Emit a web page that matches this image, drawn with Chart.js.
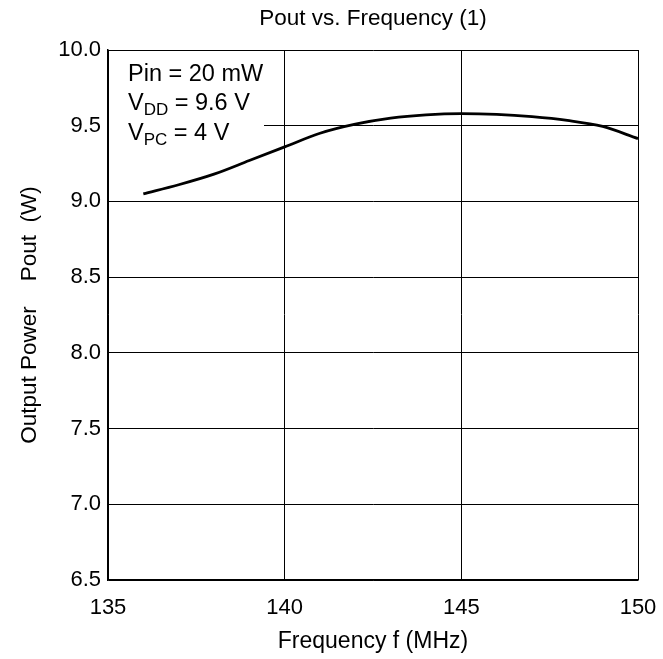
<!DOCTYPE html>
<html>
<head>
<meta charset="utf-8">
<script src="https://cdn.jsdelivr.net/npm/chart.js@4.4.1/dist/chart.umd.min.js"></script>
<style>
  html, body { margin: 0; padding: 0; background: #ffffff; }
  #wrap { width: 663px; height: 659px; }
</style>
</head>
<body>
<div id="wrap"><canvas id="c" width="663" height="659"></canvas></div>
<script>
// ---- Data ----
const frequencies = [136, 137, 138, 139, 140, 141, 142, 143, 144, 145, 146, 147, 148, 149, 150];
const poutValues  = [9.05, 9.11, 9.18, 9.27, 9.36, 9.45, 9.51, 9.55, 9.572, 9.58, 9.575, 9.56, 9.535, 9.495, 9.415];
const xTicks = [135, 140, 145, 150];
const yTicks = [6.5, 7.0, 7.5, 8.0, 8.5, 9.0, 9.5, 10.0];
const chartTitle = 'Pout vs. Frequency (1)';
const xTitle = 'Frequency f (MHz)';
const yTitle = 'Output Power    Pout  (W)';
// annotation lines: [main, subscript, rest]
const noteLines = [
  ['Pin = 20 mW', '', ''],
  ['V', 'DD', ' = 9.6 V'],
  ['V', 'PC', ' = 4 V']
];

const FONT = "'Liberation Sans', Arial, Helvetica, sans-serif";

const notePlugin = {
  id: 'notePlugin',
  beforeDatasetsDraw(chart) {
    const ctx = chart.ctx;
    const a = chart.chartArea;
    ctx.save();
    ctx.fillStyle = '#ffffff';
    ctx.fillRect(a.left + 1, a.top + 1, 264 - a.left - 1, 152 - a.top - 1);
    ctx.fillStyle = '#000000';
    ctx.textBaseline = 'alphabetic';
    ctx.textAlign = 'left';
    const x0 = a.left + 20;
    const baselines = [a.top + 31, a.top + 60, a.top + 90];
    noteLines.forEach((ln, i) => {
      let x = x0;
      const y = baselines[i];
      ctx.font = '23.5px ' + FONT;
      ctx.fillText(ln[0], x, y);
      x += ctx.measureText(ln[0]).width;
      if (ln[1]) {
        ctx.font = '17px ' + FONT;
        ctx.fillText(ln[1], x, y + 5);
        x += ctx.measureText(ln[1]).width;
      }
      if (ln[2]) {
        ctx.font = '23.5px ' + FONT;
        ctx.fillText(ln[2], x, y);
      }
    });
    ctx.restore();
  },
  afterDraw(chart) {
    const ctx = chart.ctx;
    const a = chart.chartArea;
    ctx.save();
    ctx.fillStyle = '#000000';
    ctx.font = '22.5px ' + FONT;
    ctx.textAlign = 'center';
    ctx.textBaseline = 'alphabetic';
    ctx.fillText(chartTitle, (a.left + a.right) / 2, 25);
    ctx.restore();
  }
};

new Chart(document.getElementById('c'), {
  type: 'line',
  data: {
    datasets: [{
      data: frequencies.map((f, i) => ({ x: f, y: poutValues[i] })),
      borderColor: '#000000',
      borderWidth: 2.8,
      pointRadius: 0,
      fill: false,
      cubicInterpolationMode: 'monotone'
    }]
  },
  options: {
    responsive: false,
    animation: false,
    devicePixelRatio: 1,
    layout: { padding: { left: 0, right: 25, top: 50, bottom: 0 } },
    plugins: {
      legend: { display: false },
      tooltip: { enabled: false },
      title: { display: false }
    },
    scales: {
      x: {
        type: 'linear',
        min: 135, max: 150,
        afterBuildTicks(scale) { scale.ticks = xTicks.map(v => ({ value: v })); },
        afterFit(scale) { scale.height = 79; scale.paddingLeft = 0; scale.paddingRight = 0; },
        grid: { color: '#000000', lineWidth: 1, drawTicks: false },
        border: { color: '#000000', width: 1.5 },
        ticks: {
          color: '#000000', padding: 15,
          font: { family: FONT, size: 22 },
          callback: v => String(v)
        },
        title: {
          display: true, text: xTitle, color: '#000000',
          font: { family: FONT, size: 23 },
          padding: { top: 0, bottom: 4 }
        }
      },
      y: {
        type: 'linear',
        min: 6.5, max: 10.0,
        afterBuildTicks(scale) { scale.ticks = yTicks.map(v => ({ value: v })); },
        afterFit(scale) { scale.width = 108; scale.paddingTop = 0; scale.paddingBottom = 0; },
        grid: { color: '#000000', lineWidth: 1, drawTicks: false },
        border: { color: '#000000', width: 1.5 },
        ticks: {
          color: '#000000', padding: 7,
          font: { family: FONT, size: 22 },
          callback: v => Number(v).toFixed(1)
        },
        title: {
          display: true, text: yTitle, color: '#000000',
          font: { family: FONT, size: 22.5 },
          padding: { top: 16, bottom: 0 }
        }
      }
    }
  },
  plugins: [notePlugin]
});
</script>
</body>
</html>
